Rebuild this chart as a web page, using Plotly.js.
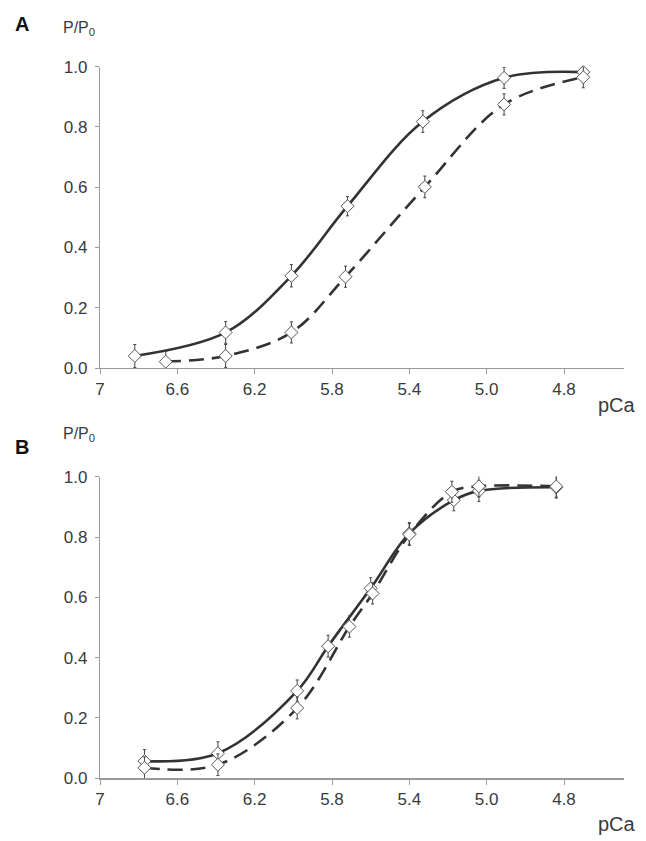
<!DOCTYPE html>
<html>
<head>
<meta charset="utf-8">
<script src="https://cdn.plot.ly/plotly-3.0.1.min.js"></script>
<style>html,body{margin:0;padding:0;background:#fff;}#chart{width:646px;height:841px;}</style>
</head>
<body>
<div id="chart"></div>
<script>
// ---- Data ----
// Panel A
const A_pCa_solid  = [6.82, 6.35, 6.01, 5.72, 5.33, 4.91, 4.50];
const A_P_solid    = [0.040, 0.118, 0.306, 0.537, 0.818, 0.963, 0.982];
const A_err_solid  = [0.038, 0.036, 0.037, 0.032, 0.036, 0.035, 0.035];
const A_pCa_dashed = [6.66, 6.35, 6.01, 5.73, 5.32, 4.91, 4.50];
const A_P_dashed   = [0.021, 0.040, 0.118, 0.303, 0.601, 0.875, 0.965];
const A_err_dashed = [0.034, 0.038, 0.035, 0.035, 0.036, 0.035, 0.035];
// Panel B
const B_pCa_solid  = [6.77, 6.39, 5.98, 5.82, 5.60, 5.40, 5.17, 5.04, 4.64];
const B_P_solid    = [0.057, 0.083, 0.290, 0.438, 0.630, 0.812, 0.922, 0.953, 0.965];
const B_err_solid  = [0.038, 0.038, 0.036, 0.036, 0.035, 0.036, 0.035, 0.035, 0.036];
const B_pCa_dashed = [6.77, 6.39, 5.98, 5.71, 5.59, 5.40, 5.18, 5.04, 4.64];
const B_P_dashed   = [0.035, 0.045, 0.233, 0.503, 0.613, 0.808, 0.950, 0.968, 0.968];
const B_err_dashed = [0.036, 0.036, 0.036, 0.035, 0.035, 0.036, 0.035, 0.035, 0.036];
// Axis ticks
const xTickVals = [7, 6.6, 6.2, 5.8, 5.4, 5.0, 4.6];
const xTickText = ["7", "6.6", "6.2", "5.8", "5.4", "5.0", "4.8"];
const yTickVals = [0, 0.2, 0.4, 0.6, 0.8, 1.0];

const W = 646, H = 841;
const lineCol = '#333333';
const axisCol = '#9a9a9a';
const txtCol = '#3a3a3a';

function lineTrace(x, y, dashed, xa, ya) {
  return {x: x, y: y, xaxis: xa, yaxis: ya, type: 'scatter', mode: 'lines',
    line: {color: lineCol, width: 2.6, shape: 'spline', smoothing: 1, dash: dashed ? '15px,8px' : 'solid'},
    hoverinfo: 'skip', showlegend: false, cliponaxis: false};
}
function markerTrace(x, y, err, xa, ya) {
  return {x: x, y: y, xaxis: xa, yaxis: ya, type: 'scatter', mode: 'markers',
    marker: {symbol: 'diamond', size: 10, color: '#ffffff', line: {color: '#555555', width: 1}},
    error_y: {type: 'data', array: err, visible: true, color: '#444444', thickness: 1, width: 1.5},
    showlegend: false, cliponaxis: false};
}

const data = [
  lineTrace(A_pCa_solid, A_P_solid, false, 'x', 'y'),
  lineTrace(A_pCa_dashed, A_P_dashed, true, 'x', 'y'),
  markerTrace(A_pCa_solid, A_P_solid, A_err_solid, 'x', 'y'),
  markerTrace(A_pCa_dashed, A_P_dashed, A_err_dashed, 'x', 'y'),
  lineTrace(B_pCa_solid, B_P_solid, false, 'x2', 'y2'),
  lineTrace(B_pCa_dashed, B_P_dashed, true, 'x2', 'y2'),
  markerTrace(B_pCa_solid, B_P_solid, B_err_solid, 'x2', 'y2'),
  markerTrace(B_pCa_dashed, B_P_dashed, B_err_dashed, 'x2', 'y2')
];

const px = v => v / W;
const py = v => 1 - v / H;
const xRange = [7, 7 - (624 - 100) / (464 / 2.4)];

function xAxis(anchor) {
  return {domain: [px(100), px(624)], range: xRange, anchor: anchor,
    showgrid: false, zeroline: false, showline: true, linecolor: axisCol, linewidth: 1.2,
    ticks: 'outside', ticklen: 5, tickcolor: axisCol, tickwidth: 1,
    tickvals: xTickVals, ticktext: xTickText,
    tickfont: {family: 'Liberation Sans, Arial, sans-serif', size: 17, color: txtCol}};
}
function yAxis(anchor, top, bottom) {
  return {domain: [py(bottom), py(top)], range: [0, 1], anchor: anchor,
    showgrid: false, zeroline: false, showline: true, linecolor: axisCol, linewidth: 1.2,
    ticks: 'outside', ticklen: 4, tickcolor: axisCol, tickwidth: 1,
    tickvals: yTickVals, tickformat: '.1f', ticklabelstandoff: 4,
    tickfont: {family: 'Liberation Sans, Arial, sans-serif', size: 17, color: txtCol}};
}

function ann(text, x, y, size, bold, xanchor) {
  return {text: bold ? '<b>' + text + '</b>' : text, xref: 'paper', yref: 'paper',
    x: px(x), y: py(y), xanchor: xanchor || 'center', yanchor: 'middle', showarrow: false,
    font: {family: 'Liberation Sans, Arial, sans-serif', size: size, color: bold ? '#111' : txtCol}};
}

const layout = {
  width: W, height: H,
  margin: {l: 0, r: 0, t: 0, b: 0},
  paper_bgcolor: '#ffffff', plot_bgcolor: '#ffffff',
  showlegend: false,
  xaxis: xAxis('y'),
  yaxis: yAxis('x', 66.7, 368),
  xaxis2: xAxis('y2'),
  yaxis2: yAxis('x2', 476.7, 778.3),
  annotations: [
    ann('A', 22, 24, 20, true),
    ann('P/P<sub>0</sub>', 61, 29, 16, false, 'left'),
    ann('pCa', 617, 405, 20, false),
    ann('B', 22, 447, 20, true),
    ann('P/P<sub>0</sub>', 61, 434, 16, false, 'left'),
    ann('pCa', 617, 824, 20, false)
  ]
};

Plotly.newPlot('chart', data, layout, {displayModeBar: false, staticPlot: true});
</script>
</body>
</html>
